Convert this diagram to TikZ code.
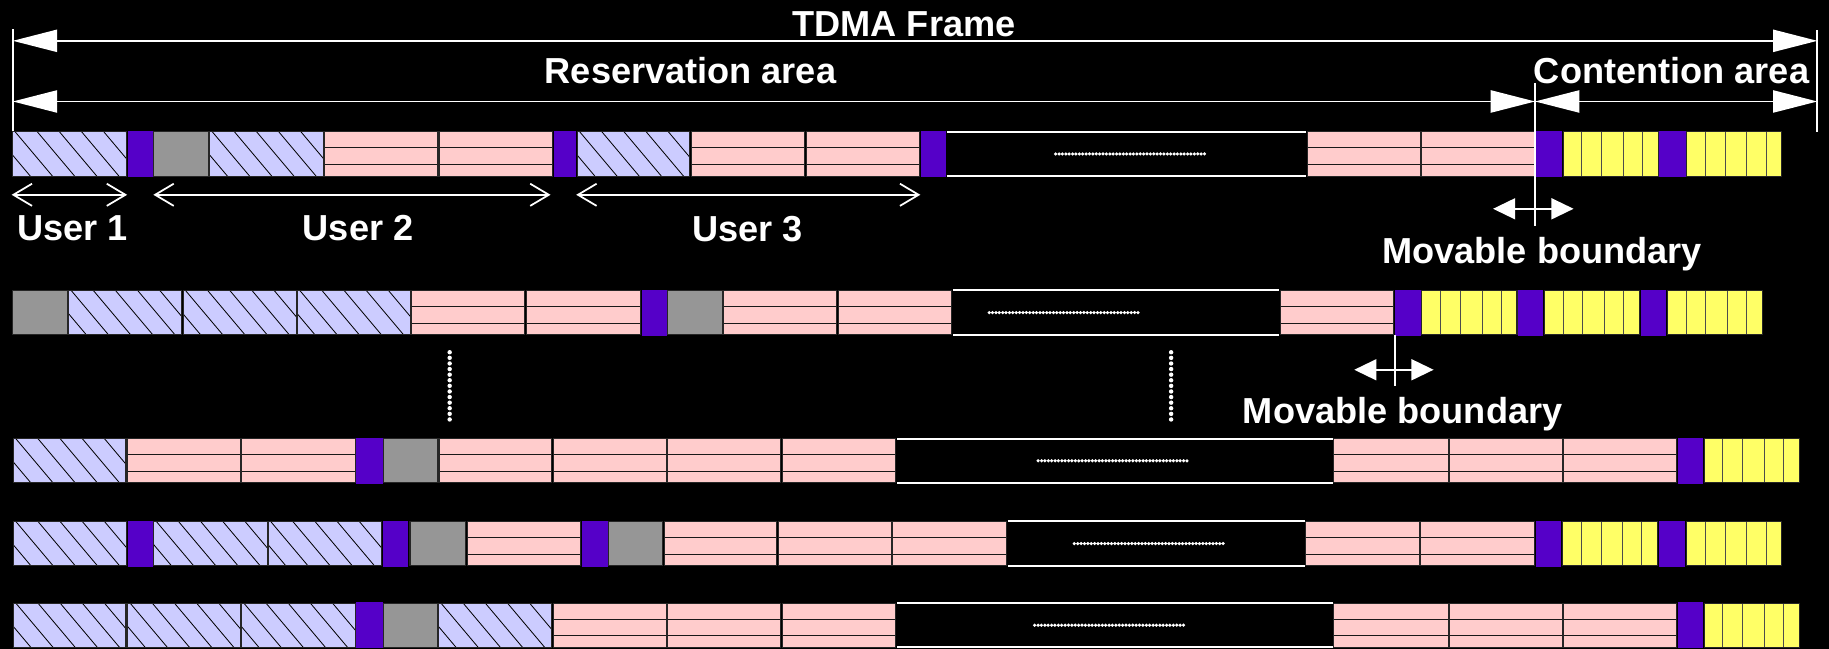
\documentclass[tikz,border=0pt]{standalone}
\usepackage{fontspec}
\setmainfont{Liberation Sans}
\usetikzlibrary{arrows.meta}

\definecolor{lav}{RGB}{204,204,255}
\definecolor{pinkc}{RGB}{255,204,204}
\definecolor{yel}{RGB}{255,255,102}
\definecolor{purp}{RGB}{85,0,200}
\definecolor{greyc}{RGB}{150,150,150}

\tikzset{
  cellbox/.style={anchor=north west, inner sep=0pt, outer sep=0pt, minimum height=38pt, draw=none},
  cellline/.style={draw=black!85, line width=0.9pt},
  bandline/.style={draw=black!90, line width=0.9pt},
  hatchline/.style={draw=black, line width=0.7pt},
  stripeline/.style={draw=black!70, line width=0.8pt},
  gapline/.style={draw=white, line width=1.8pt},
  dotrow/.style={draw=white, line width=3pt, line cap=round, dash pattern=on 0pt off 2.9pt},
  dotcol/.style={draw=white, line width=3.8pt, line cap=round, dash pattern=on 0pt off 4.8pt},
  dim/.style={draw=white, line width=1.5pt},
  bigtips/.style={{Triangle[length=38pt,width=19pt]}-{Triangle[length=38pt,width=19pt]}},
  smalltips/.style={{Triangle[length=19pt,width=18pt]}-{Triangle[length=19pt,width=18pt]}},
  usertips/.style={{Straight Barb[length=16pt,width=19pt]}-{Straight Barb[length=16pt,width=19pt]}},
  lbl/.style={text=white, font=\fontsize{31}{36}\selectfont\bfseries, inner sep=0pt, anchor=base},
}

% current row: top and bottom edge
\newcommand\rowat[2]{\def\rt{#1}\def\rb{#2}}
% plain slot box
\newcommand\mkcell[4]{%
  \node[cellbox, fill=#4, minimum width={(#3-#2)*1pt}] (#1) at (#2,\rt) {};}
\newcommand\frameit[1]{\draw[cellline] (#1.north west) rectangle (#1.south east);}
% reserved slot, hatched
\newcommand\hslot[3]{\mkcell{#1}{#2}{#3}{lav}%
  \begin{scope}
    \clip (#1.north west) rectangle (#1.south east);
    \foreach \k in {-2,...,5} \draw[hatchline] ({#2+2+\k*19},\rt) -- ++(32,38);
  \end{scope}
  \frameit{#1}}
% data slot, three bands
\newcommand\kslot[3]{\mkcell{#1}{#2}{#3}{pinkc}%
  \draw[bandline] (#2,{\rt+13.7}) -- (#3,{\rt+13.7}) (#2,{\rt+28.1}) -- (#3,{\rt+28.1});
  \frameit{#1}}
% idle slot
\newcommand\gslot[3]{\mkcell{#1}{#2}{#3}{greyc}\frameit{#1}}
% control slot
\newcommand\pslot[3]{%
  \node[cellbox, fill=purp, minimum width={(#3-#2)*1pt}, minimum height=39.5pt] (#1) at (#2,{\rt-0.75}) {};}
% contention minislots
\newcommand\yslot[3]{\mkcell{#1}{#2}{#3}{yel}%
  \foreach \o in {16,33,51.5,68} \draw[stripeline] ({#2+\o},\rt) -- ({#2+\o},\rb);
  \frameit{#1}}
% omitted slots
\newcommand\gapslot[5]{%
  \node[cellbox, minimum width={(#3-#2)*1pt}] (#1) at (#2,\rt) {};
  \draw[gapline] (#1.north west) -- (#1.north east) (#1.south west) -- (#1.south east);
  \draw[dotrow] (#4,{(\rt+\rb)/2}) -- (#5,{(\rt+\rb)/2});}

\begin{document}
\begin{tikzpicture}[x=1pt,y=-1pt]
\useasboundingbox (0,0) rectangle (1568,556);
\fill[black] (0,0) rectangle (1568,556);

% ---------- frame 1
\rowat{113}{151}
\hslot{a1}{11}{108.5}
\pslot{a2}{109.5}{131}
\gslot{a3}{132}{179}
\hslot{a4}{180}{277}
\kslot{a5}{278}{375.5}
\kslot{a6}{376.5}{474}
\pslot{a7}{475}{494}
\hslot{a8}{495}{591.5}
\kslot{a9}{592.5}{690}
\kslot{a10}{691}{788.5}
\pslot{a11}{789.5}{811}
\gapslot{a12}{811.5}{1119.5}{905}{1035}
\kslot{a13}{1120.5}{1218}
\kslot{a14}{1219}{1316}
\pslot{a15}{1317}{1339}
\yslot{a16}{1340}{1421.5}
\pslot{a17}{1422.5}{1445}
\yslot{a18}{1446}{1527.5}

% ---------- frame 2
\rowat{249}{287}
\gslot{b1}{11}{57.5}
\hslot{b2}{59}{156}
\hslot{b3}{157}{254}
\hslot{b4}{255}{352}
\kslot{b5}{353}{450}
\kslot{b6}{451.5}{549}
\pslot{b7}{550}{572}
\gslot{b8}{572.5}{619.5}
\kslot{b9}{620.5}{717.5}
\kslot{b10}{718.5}{816}
\gapslot{b11}{817}{1096.5}{848}{977.5}
\kslot{b12}{1097.5}{1195}
\pslot{b13}{1196}{1218}
\yslot{b14}{1219}{1300.5}
\pslot{b15}{1301.5}{1322.5}
\yslot{b16}{1324}{1405.5}
\pslot{b17}{1406.5}{1428.5}
\yslot{b18}{1429.5}{1511}

% ---------- frame 3
\rowat{376}{414}
\hslot{c1}{11.5}{108}
\kslot{c2}{109.5}{206}
\kslot{c3}{207}{304.5}
\pslot{c4}{305.5}{328}
\gslot{c5}{328.5}{375.5}
\kslot{c6}{377}{473}
\kslot{c7}{474.5}{571}
\kslot{c8}{572.5}{669.5}
\kslot{c9}{670.5}{767.5}
\gapslot{c10}{769}{1142.5}{890}{1020}
\kslot{c11}{1143.5}{1241.5}
\kslot{c12}{1242.5}{1339.5}
\kslot{c13}{1340.5}{1437.5}
\pslot{c14}{1438.5}{1460}
\yslot{c15}{1461}{1542.5}

% ---------- frame 4
\rowat{447}{485}
\hslot{d1}{11.5}{108.5}
\pslot{d2}{110}{131}
\hslot{d3}{132}{229}
\hslot{d4}{230}{327}
\pslot{d5}{328.5}{350}
\gslot{d6}{351.5}{399}
\kslot{d7}{400.5}{497.5}
\pslot{d8}{499}{521}
\gslot{d9}{521.5}{568}
\kslot{d10}{569.5}{665.5}
\kslot{d11}{667}{764}
\kslot{d12}{765.5}{862.5}
\gapslot{d13}{864}{1119}{921}{1049}
\kslot{d14}{1119.5}{1217}
\kslot{d15}{1218}{1315.5}
\pslot{d16}{1316.5}{1338}
\yslot{d17}{1339.5}{1421}
\pslot{d18}{1422.5}{1444.5}
\yslot{d19}{1446}{1527.5}

% ---------- frame 5
\rowat{517}{555}
\hslot{e1}{11.5}{108}
\hslot{e2}{109.5}{206}
\hslot{e3}{207}{304.5}
\pslot{e4}{305.5}{328}
\gslot{e5}{328.5}{375.5}
\hslot{e6}{376}{473}
\kslot{e7}{474.5}{571}
\kslot{e8}{572.5}{669.5}
\kslot{e9}{670.5}{767.5}
\gapslot{e10}{769}{1142.5}{887}{1016}
\kslot{e11}{1143.5}{1241.5}
\kslot{e12}{1242.5}{1339.5}
\kslot{e13}{1340.5}{1437.5}
\pslot{e14}{1438.5}{1460}
\yslot{e15}{1461}{1542.5}

% ---------- omitted frames between 2 and 3
\coordinate (vdA1) at (385.5,302);  \coordinate (vdA2) at (385.5,360);
\coordinate (vdB1) at (1004,302); \coordinate (vdB2) at (1004,360);
\draw[dotcol] (vdA1) -- (vdA2);
\draw[dotcol] (vdB1) -- (vdB2);

% ---------- frame dimensions
\coordinate (fL1) at (11,25);    \coordinate (fL2) at (11,112);
\coordinate (fR1) at (1558,26);  \coordinate (fR2) at (1558,113);
\coordinate (mb1t) at (1316,71); \coordinate (mb1b) at (1316,194);
\coordinate (tdL) at (11,35);    \coordinate (tdR) at (1558,35);
\coordinate (rsL) at (11,87);    \coordinate (rsR) at (1316,87);
\coordinate (ctR) at (1558,87);
\draw[dim] (fL1) -- (fL2);
\draw[dim] (fR1) -- (fR2);
\draw[dim] (mb1t) -- (mb1b);
\draw[dim, bigtips] (tdL) -- (tdR);
\draw[dim, bigtips] (rsL) -- (rsR);
\draw[dim, bigtips] (rsR) -- (ctR);

\node[lbl] (tdma) at (775,31) {TDMA Frame};
\node[lbl] (resv) at (592,71.5) {Reservation area};
\node[lbl] (cont) at (1433,71.5) {Contention area};

% ---------- users of frame 1
\coordinate (u1L) at (10,167);  \coordinate (u1R) at (109,167);
\coordinate (u2L) at (131.5,167); \coordinate (u2R) at (472,167);
\coordinate (u3L) at (494,167); \coordinate (u3R) at (789,167);
\draw[dim, usertips] (u1L) -- (u1R);
\draw[dim, usertips] (u2L) -- (u2R);
\draw[dim, usertips] (u3L) -- (u3R);
\node[lbl] (user1) at (62,206) {User 1};
\node[lbl] (user2) at (307,206) {User 2};
\node[lbl] (user3) at (641,207) {User 3};

% ---------- movable boundaries
\coordinate (m1L) at (1280,179); \coordinate (m1R) at (1349,179);
\draw[dim, smalltips] (m1L) -- (m1R);
\node[lbl] (mov1) at (1322,226) {Movable boundary};

\coordinate (mb2t) at (1196,287); \coordinate (mb2b) at (1196,331);
\coordinate (m2L) at (1161,317);  \coordinate (m2R) at (1229,317);
\draw[dim] (mb2t) -- (mb2b);
\draw[dim, smalltips] (m2L) -- (m2R);
\node[lbl] (mov2) at (1202.5,363) {Movable boundary};
\end{tikzpicture}
\end{document}
